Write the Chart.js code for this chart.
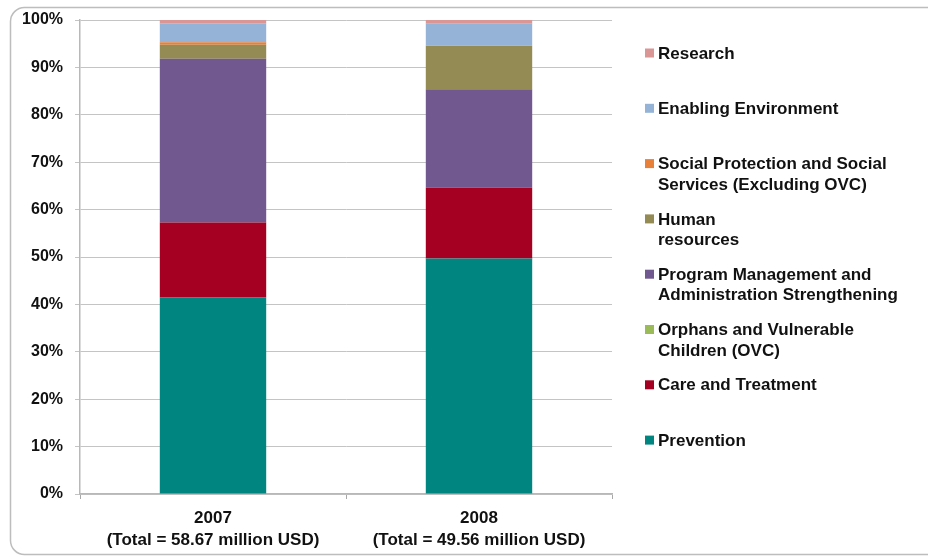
<!DOCTYPE html>
<html>
<head>
<meta charset="utf-8">
<script src="https://cdn.jsdelivr.net/npm/chart.js@4/dist/chart.umd.min.js"></script>
<style>
  html, body { margin: 0; padding: 0; background: #fff; }
  #wrap { position: relative; width: 928px; height: 560px; }
</style>
</head>
<body>
<div id="wrap"><canvas id="chart" width="928" height="560"></canvas></div>
<script>
const years = [
    ["2007", "(Total = 58.67 million USD)"],
    ["2008", "(Total = 49.56 million USD)"]
];
const yTicks = [0, 10, 20, 30, 40, 50, 60, 70, 80, 90, 100];

// share of each year's total, in %
const prevention = [41.5, 49.7];
const careTreatment = [15.8, 14.9];
const orphans = [0, 0];
const programMgmt = [34.5, 20.8];
const humanRes = [3.0, 9.1];
const socialProt = [0.5, 0.1];
const enabling = [4.0, 4.6];
const research = [0.7, 0.8];

const seriesNames = [
    ["Prevention"],
    ["Care and Treatment"],
    ["Orphans and Vulnerable", "Children (OVC)"],
    ["Program Management and", "Administration Strengthening"],
    ["Human", "resources"],
    ["Social Protection and Social", "Services (Excluding OVC)"],
    ["Enabling Environment"],
    ["Research"]
];
const seriesValues = [prevention, careTreatment, orphans, programMgmt, humanRes, socialProt, enabling, research];
const seriesColors = ["#008580", "#a50021", "#9bbb59", "#71588f", "#948a54", "#e8803a", "#95b3d7", "#d99694"];

const FONT = "'Liberation Sans', Arial, sans-serif";

// rounded frame round the whole chart
const framePlugin = {
    id: "frame",
    beforeDraw(chart) {
        let ctx = chart.ctx;
        ctx.save();
        ctx.fillStyle = "#fff";
        ctx.fillRect(0, 0, chart.width, chart.height);
        ctx.strokeStyle = "#bdbdbd";
        ctx.lineWidth = 1.5;
        ctx.beginPath();
        ctx.roundRect(10.5, 7.5, 930, 547, 14);
        ctx.stroke();
        ctx.restore();
    }
};

// legend on the right, reversed, with wrapped labels
const sideLegend = {
    id: "sideLegend",
    afterDraw(chart) {
        let ctx = chart.ctx;
        let sets = chart.data.datasets;
        let x0 = chart.chartArea.right + 33;
        let y0 = 53;
        let step = 55.3;
        ctx.save();
        ctx.font = "bold 17px " + FONT;
        ctx.textBaseline = "middle";
        ctx.textAlign = "left";
        for (let i = 0; i < sets.length; i++) {
            let ds = sets[sets.length - 1 - i];
            let y = y0 + i * step;
            ctx.fillStyle = ds.backgroundColor;
            ctx.fillRect(x0, y - 4.5, 9, 9);
            ctx.fillStyle = "#111";
            ds.label.forEach((line, j) => ctx.fillText(line, x0 + 13, y + 1 + j * 20.5));
        }
        ctx.restore();
    }
};

new Chart(document.getElementById("chart").getContext("2d"), {
    type: "bar",
    data: {
        labels: years,
        datasets: seriesNames.map((name, i) => ({
            label: name,
            data: seriesValues[i],
            backgroundColor: seriesColors[i],
            borderWidth: 0,
            categoryPercentage: 1,
            barPercentage: 0.4
        }))
    },
    options: {
        responsive: false,
        animation: false,
        layout: { padding: { left: 20, top: 19, right: 316, bottom: 10 } },
        plugins: {
            legend: { display: false },
            tooltip: { enabled: false }
        },
        scales: {
            x: {
                stacked: true,
                afterFit: s => { s.height = 56; },
                grid: {
                    offset: true,
                    drawOnChartArea: false,
                    color: "#a8a8a8",
                    tickLength: 5
                },
                border: { color: "#b8b8b8", width: 1.5 },
                ticks: {
                    color: "#111",
                    padding: 9,
                    font: { family: FONT, size: 17, weight: "bold", lineHeight: 1.25 }
                }
            },
            y: {
                stacked: true,
                min: 0,
                max: 100,
                afterFit: s => { s.width = 60; },
                afterBuildTicks: s => { s.ticks = yTicks.map(v => ({ value: v })); },
                grid: { color: "#c4c4c4", tickLength: 5 },
                border: { color: "#b8b8b8", width: 1.5 },
                ticks: {
                    color: "#111",
                    padding: 12,
                    font: { family: FONT, size: 16, weight: "bold", lineHeight: 1 },
                    callback: v => v + "%"
                }
            }
        }
    },
    plugins: [framePlugin, sideLegend]
});
</script>
</body>
</html>
